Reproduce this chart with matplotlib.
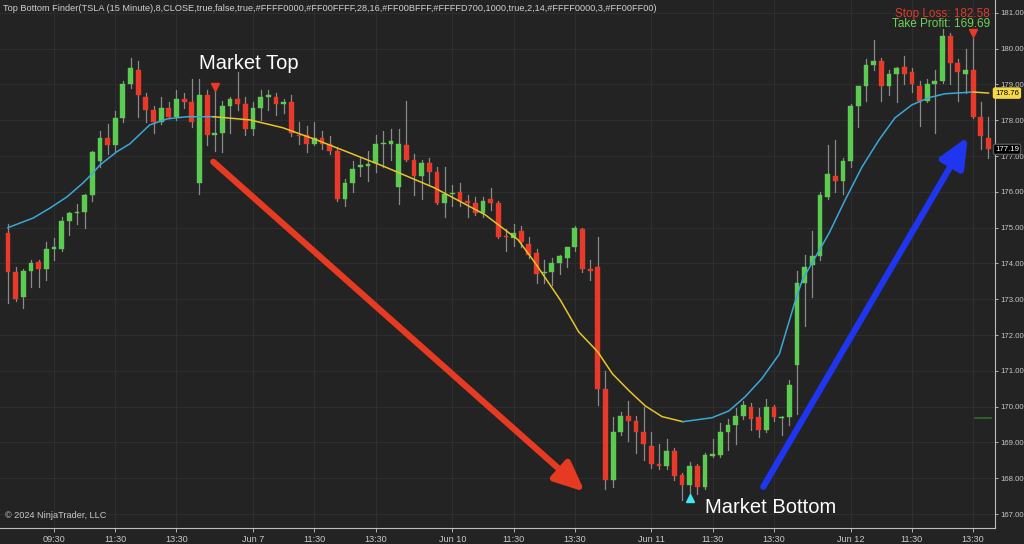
import matplotlib
matplotlib.use("Agg")
import matplotlib.pyplot as plt
from matplotlib.patches import Rectangle

opens = [174.85,173.75,173.05,173.8,174.05,173.85,174.4,174.4,175.2,175.4,175.45,175.9,176.85,177.5,177.3,178.05,179.0,179.4,178.65,178.3,
 177.95,178.35,178.1,178.6,178.5,176.25,178.7,177.6,177.65,178.4,178.6,178.45,177.75,178.35,178.65,178.65,178.45,178.5,177.6,177.6,
 177.35,177.5,177.35,177.15,175.8,176.25,176.7,176.72,176.8,177.33,177.35,176.15,177.3,176.9,176.45,176.8,176.55,175.7,175.93,176.0,
 175.75,175.7,175.4,175.8,175.7,174.76,174.7,174.9,174.55,174.3,173.73,173.75,174.0,174.15,174.45,174.95,173.85,173.9,170.5,167.95,
 169.3,169.75,169.6,169.3,168.9,168.4,168.35,168.75,168.1,167.8,168.35,167.75,168.63,168.65,169.3,169.5,169.75,170.0,169.7,169.35,
 170.0,169.68,169.7,171.15,173.45,173.95,174.2,175.85,176.45,176.3,176.85,178.4,178.95,179.55,179.65,178.95,179.3,179.5,179.35,178.95,
 178.55,179.0,179.1,180.35,179.6,179.3,179.4,178.1,177.5]
highs = [175.1,173.9,173.85,174.1,174.1,174.6,174.7,175.3,175.45,175.65,175.95,177.15,177.7,177.9,178.25,179.1,179.75,179.65,178.75,178.4,
 178.65,178.5,178.85,178.75,179.15,179.15,178.85,178.9,178.55,178.65,179.35,178.65,178.5,178.85,178.85,178.75,178.6,178.7,177.95,177.85,
 177.95,177.7,177.55,177.25,176.35,176.85,176.95,177.15,177.6,177.7,177.75,177.75,178.55,177.05,176.9,176.95,176.7,176.7,176.2,176.25,
 175.9,175.85,175.85,176.1,175.75,174.95,175.1,175.05,174.75,174.4,174.1,174.15,174.25,174.45,175.05,175.0,174.1,174.75,171.0,169.7,
 169.85,170.15,169.75,170.0,169.3,168.95,169.1,168.85,168.15,168.45,168.4,168.7,169.1,169.55,169.65,169.95,170.15,170.1,169.95,170.2,
 170.05,169.75,170.75,173.8,174.25,174.9,176.0,177.3,177.45,176.95,178.45,178.95,179.7,180.25,179.75,179.4,179.5,179.8,179.45,179.1,
 179.15,179.4,180.55,180.45,179.7,180.0,180.3,178.5,178.1]
lows = [172.9,172.95,172.75,173.35,173.35,173.55,174.1,174.35,174.8,175.1,175.0,175.75,176.7,177.05,177.15,177.95,178.9,178.1,177.95,177.65,
 177.9,178.05,178.0,178.35,177.8,175.95,177.3,177.15,177.1,177.65,178.3,177.6,177.6,178.0,178.3,178.15,178.2,177.55,177.35,177.1,
 177.3,177.2,177.05,175.75,175.6,176.0,176.45,176.3,176.55,176.7,176.9,175.65,176.85,175.9,175.8,176.2,175.65,175.3,175.6,175.6,
 175.3,175.35,175.3,175.5,174.7,174.35,174.5,174.45,174.15,173.45,173.45,173.4,173.7,173.9,174.35,173.75,173.55,170.05,167.7,167.75,
 169.2,169.05,168.7,168.5,168.3,168.25,168.25,167.95,167.4,167.55,167.55,167.7,168.6,168.6,168.8,168.95,169.65,169.35,169.15,169.3,
 169.6,169.2,169.5,169.8,172.25,173.05,174.1,175.8,176.0,175.95,176.7,177.8,178.55,179.4,178.55,178.7,178.5,179.0,178.8,177.85,
 178.5,177.65,179.05,179.0,178.55,178.75,178.05,177.2,176.95]
closes = [173.75,173.0,173.8,174.0,173.85,174.4,174.45,175.2,175.4,175.45,175.9,177.1,177.5,177.3,178.05,179.0,179.45,178.7,178.3,177.95,
 178.35,178.1,178.6,178.5,177.95,178.7,177.6,177.65,178.4,178.6,178.45,177.75,178.35,178.65,178.7,178.45,178.5,177.65,177.55,177.35,
 177.5,177.35,177.15,175.8,176.25,176.65,176.75,176.78,177.35,177.37,177.42,177.35,176.9,176.45,176.8,176.55,175.7,175.95,175.97,175.75,
 175.7,175.4,175.75,175.7,174.75,174.74,174.85,174.6,174.25,173.7,173.77,174.0,174.2,174.45,175.0,173.85,173.8,170.5,167.95,169.3,
 169.75,169.6,169.3,168.95,168.4,168.35,168.75,168.05,167.8,168.35,167.75,168.65,168.67,169.3,169.5,169.75,170.05,169.65,169.35,170.0,
 169.7,169.72,170.6,173.45,173.9,174.2,175.9,176.5,176.3,176.85,178.4,178.95,179.55,179.65,178.95,179.3,179.45,179.3,179.0,178.55,
 179.0,179.1,180.35,179.6,179.35,179.4,178.1,177.55,177.2]

curve_x = [0, 3.3, 5.5, 7.7, 9.8, 11.1, 12, 14.2, 15.9, 18.5, 20.8, 23.4, 26.8, 31.6, 35.9, 40.3, 44.6, 49.2, 55.7, 62.3,
           66.6, 68.8, 72.1, 74.5, 77, 78.9, 81.1, 83.2, 85.4, 88.1, 91.9, 94.1, 96.2, 98.4, 100.7, 102.7, 103.7,
           107.2, 109.3, 111.5, 113.7, 115.8, 118, 120.2, 122.3, 126, 128]
curve_y = [175.0, 175.27, 175.55, 175.86, 176.25, 176.53, 176.75, 177.12, 177.34, 177.87, 178.04, 178.1, 178.1, 178.01,
           177.79, 177.45, 177.09, 176.7, 176.11, 175.36, 174.66, 174.02, 172.98, 172.09, 171.53, 170.92, 170.44, 170.02,
           169.72, 169.58, 169.69, 169.88, 170.27, 170.78, 171.47, 172.9, 173.54, 174.85, 175.78, 176.7, 177.45, 178.07,
           178.43, 178.63, 178.74, 178.79, 178.76]

tick_pos = [6,14,22,32,40,48,58,66,74,84,92,100,110,118,126]
tick_lab = ["09:30","11:30","13:30","Jun 7","11:30","13:30","Jun 10","11:30","13:30","Jun 11","11:30","13:30","Jun 12","11:30","13:30"]
price_ticks = list(range(167, 182))

plt.rcParams['font.family'] = ['Liberation Sans', 'DejaVu Sans']
BG = "#232323"
GREEN = "#5ccb52"
RED = "#e8392b"
fig = plt.figure(figsize=(10.24, 5.44), dpi=100, facecolor=BG)
ax = fig.add_axes([0, 16/544, 995/1024, 528/544])
ax.set_facecolor(BG)
ax.set_xlim(-1.04, 128.85)
ax.set_ylim(166.61, 181.36)

for t in tick_pos:
    ax.axvline(t, color="#2e2e2e", lw=0.8, zorder=0)
for p in price_ticks:
    ax.axhline(p, color="#2e2e2e", lw=0.8, zorder=0)

w = 0.62
for i, (o, h, l, c) in enumerate(zip(opens, highs, lows, closes)):
    col = GREEN if c >= o else RED
    ax.plot([i, i], [l, h], color="#8a8a8a", lw=0.9, zorder=2)
    b = min(o, c); hgt = max(abs(c - o), 0.04)
    ax.add_patch(Rectangle((i - w/2, b), w, hgt, facecolor=col, edgecolor=col, lw=0.3, zorder=3))

BLUE_L = "#3aa8d8"; YEL = "#e6c42a"
def seg(x0, x1, col):
    pts = [(x, y) for x, y in zip(curve_x, curve_y) if x0 <= x <= x1]
    ax.plot([p[0] for p in pts], [p[1] for p in pts], color=col, lw=1.1, zorder=4, solid_joinstyle="round")
seg(0, 26.8, BLUE_L)
seg(26.8, 88.1, YEL)
seg(88.1, 126, BLUE_L)
seg(126, 128, YEL)

ax.plot([27], [178.92], marker="v", color=RED, ms=6, zorder=5)
ax.plot([126], [180.45], marker="v", color=RED, ms=6, zorder=5)
ax.plot([89], [167.45], marker="^", color="#40e6f0", ms=6, zorder=5)
ax.plot([126.3, 128.3], [169.69, 169.69], color="#2f6e2a", lw=1.2, zorder=4)

ax.annotate("", xy=(75.3, 167.62), xytext=(26.8, 176.84),
            arrowprops=dict(arrowstyle="-|>,head_length=1.8,head_width=0.8", color="#e63b22", lw=4.5, shrinkA=0, shrinkB=0), zorder=6)
ax.annotate("", xy=(125.3, 177.54), xytext=(98.6, 167.76),
            arrowprops=dict(arrowstyle="-|>,head_length=1.8,head_width=0.8", color="#1f35f0", lw=4.5, shrinkA=0, shrinkB=0), zorder=6)

ax.text(31.5, 179.6, "Market Top", color="white", fontsize=14.5, ha="center", va="center", zorder=7)
ax.text(99.5, 167.17, "Market Bottom", color="white", fontsize=14.5, ha="center", va="center", zorder=7)

ax.text(0.003, 0.993, "Top Bottom Finder(TSLA (15 Minute),8,CLOSE,true,false,true,#FFFF0000,#FF00FFFF,28,16,#FF00BFFF,#FFFFD700,1000,true,2,14,#FFFF0000,3,#FF00FF00)",
        transform=ax.transAxes, color="#d0d0d0", fontsize=6.6, ha="left", va="top")
ax.text(0.995, 180.96, "Stop Loss: 182.58", color="#e03a2a", fontsize=8.5, ha="right", va="center",
        transform=ax.get_yaxis_transform())
ax.text(0.995, 180.68, "Take Profit: 169.69", color="#6bd35a", fontsize=8.5, ha="right", va="center",
        transform=ax.get_yaxis_transform())
ax.text(0.005, 0.015, "© 2024 NinjaTrader, LLC", transform=ax.transAxes, color="#c8c8c8", fontsize=6.6, ha="left", va="bottom")

ax.set_xticks(tick_pos)
ax.set_xticklabels(tick_lab)
ax.yaxis.tick_right()
ax.set_yticks(price_ticks)
ax.set_yticklabels([f"{p:.2f}" for p in price_ticks])
ax.tick_params(axis="x", colors="#c8c8c8", labelsize=6.6, length=3, width=0.6, pad=2)
ax.tick_params(axis="y", colors="#c8c8c8", labelsize=5.6, length=2, width=0.6, pad=1.5)
for s in ["top", "left"]:
    ax.spines[s].set_visible(False)
for s in ["right", "bottom"]:
    ax.spines[s].set_color("#bdbdbd"); ax.spines[s].set_linewidth(0.8)

ax.text(1.0, 178.76, "178.76", transform=ax.get_yaxis_transform(), color="black", fontsize=5.6, va="center", ha="left",
        bbox=dict(boxstyle="round,pad=0.2", fc="#f5d94a", ec="#f5d94a"), zorder=10, clip_on=False)
ax.text(1.0, 177.19, "177.19", transform=ax.get_yaxis_transform(), color="white", fontsize=5.6, va="center", ha="left",
        bbox=dict(boxstyle="round,pad=0.2", fc="black", ec="#555555"), zorder=10, clip_on=False)

fig.savefig("out.png", dpi=100, facecolor=BG)
